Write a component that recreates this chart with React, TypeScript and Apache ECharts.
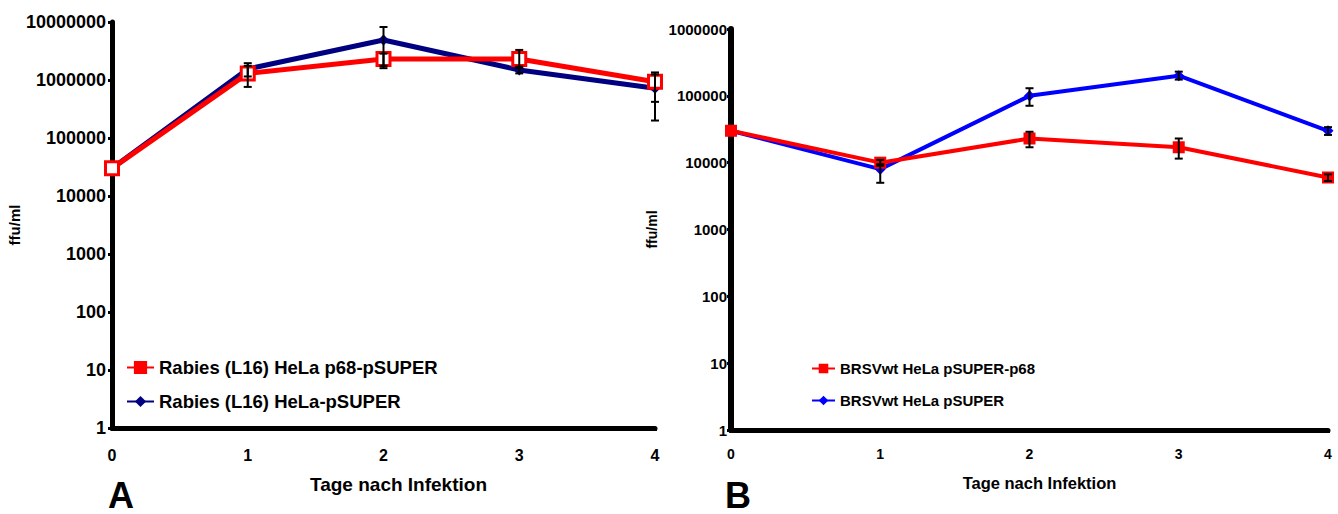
import React, { useEffect, useRef } from "react";
import * as echarts from "echarts";

// ---- Data ----
const days = [0, 1, 2, 3, 4];
// Panel A
const aRedName = "Rabies (L16) HeLa p68-pSUPER";
const aBlueName = "Rabies (L16) HeLa-pSUPER";
const aRed = [30000, 1300000, 2300000, 2300000, 930000];
const aBlue = [30000, 1550000, 4900000, 1490000, 720000];
const aRedErr = [[30000, 30000], [760000, 1750000], [1750000, 2850000], [1600000, 3300000], [420000, 1350000]];
const aBlueErr = [[30000, 30000], [1150000, 1950000], [1600000, 8200000], [1300000, 1700000], [200000, 1250000]];
const aTicks = ["1", "10", "100", "1000", "10000", "100000", "1000000", "10000000"];
// Panel B
const bRedName = "BRSVwt HeLa pSUPER-p68";
const bBlueName = "BRSVwt HeLa pSUPER";
const bRed = [30000, 10000, 23000, 17000, 6000];
const bBlue = [30000, 8000, 100000, 200000, 30000];
const bRedErr = [[30000, 30000], [9000, 11000], [17000, 29000], [11500, 23000], [5300, 6700]];
const bBlueErr = [[30000, 30000], [5000, 9500], [71000, 130000], [175000, 230000], [26000, 34000]];
const bTicks = ["1", "10", "100", "1000", "10000", "100000", "1000000"];

const FONT = "Liberation Sans";

function errSeries(xi: number, yi: number, errs: number[][], cap: number) {
  return {
    type: "custom",
    xAxisIndex: xi,
    yAxisIndex: yi,
    z: 5,
    clip: false,
    data: days.map((d, i) => [d, errs[i][0], errs[i][1]]),
    renderItem: (params: any, api: any) => {
      const x = api.value(0);
      const lo = api.value(1);
      const hi = api.value(2);
      if (lo === hi) return null;
      const p1 = api.coord([x, lo]);
      const p2 = api.coord([x, hi]);
      const st = { stroke: "#000", lineWidth: 2 };
      return {
        type: "group",
        children: [
          { type: "line", shape: { x1: p1[0], y1: p1[1], x2: p2[0], y2: p2[1] }, style: st },
          { type: "line", shape: { x1: p1[0] - cap, y1: p1[1], x2: p1[0] + cap, y2: p1[1] }, style: st },
          { type: "line", shape: { x1: p2[0] - cap, y1: p2[1], x2: p2[0] + cap, y2: p2[1] }, style: st },
        ],
      };
    },
  };
}

function xAxisCfg(gi: number, fs: number, lw: number, gap: number, nfs: number, margin: number, shift: number) {
  return {
    type: "value",
    gridIndex: gi,
    min: 0,
    max: 4,
    interval: 1,
    name: "Tage nach Infektion",
    nameLocation: "middle",
    nameGap: gap,
    nameTextStyle: {
      fontFamily: FONT,
      fontWeight: "bold",
      fontSize: nfs,
      color: "#000",
      padding: [0, 0, 0, shift * 2],
    },
    axisLine: { show: true, onZero: false, lineStyle: { color: "#000", width: lw } },
    axisTick: { show: true, length: 3, inside: false, lineStyle: { color: "#000", width: 3 } },
    axisLabel: { fontFamily: FONT, fontWeight: "bold", fontSize: fs, color: "#000", margin },
    splitLine: { show: false },
  };
}

function yAxisCfg(gi: number, max: number, fs: number, lw: number, gap: number, nfs: number, margin: number, ticks: string[]) {
  return {
    type: "log",
    logBase: 10,
    gridIndex: gi,
    min: 1,
    max,
    name: "ffu/ml",
    nameLocation: "middle",
    nameGap: gap,
    nameRotate: 90,
    nameTextStyle: { fontFamily: FONT, fontWeight: "bold", fontSize: nfs, color: "#000" },
    axisLine: { show: true, lineStyle: { color: "#000", width: lw } },
    axisTick: { show: true, length: 4, lineStyle: { color: "#000", width: 3 } },
    axisLabel: {
      fontFamily: FONT,
      fontWeight: "bold",
      fontSize: fs,
      color: "#000",
      margin,
      formatter: (v: number) => {
        const i = Math.round(Math.log10(v));
        return ticks[i] !== undefined ? ticks[i] : String(Math.round(v));
      },
    },
    splitLine: { show: false },
  };
}

export default function App() {
  const ref = useRef<HTMLDivElement>(null);
  useEffect(() => {
    document.body.style.margin = "0";
    const chart = echarts.init(ref.current!, undefined, { renderer: "svg" });
    chart.setOption({
      animation: false,
      backgroundColor: "#fff",
      grid: [
        { left: 112, right: 683, top: 22, bottom: 86 },
        { left: 731, right: 10, top: 29, bottom: 84 },
      ],
      xAxis: [xAxisCfg(0, 16, 5, 47, 19, 19, 15), xAxisCfg(1, 14, 5, 44, 16.5, 17, 10)],
      yAxis: [
        yAxisCfg(0, 10000000, 18, 5, 87, 15, 6, aTicks),
        yAxisCfg(1, 1000000, 15, 6, 72, 14, 4, bTicks),
      ],
      legend: [
        {
          data: [{ name: aRedName, itemStyle: { color: "#ff0000", borderColor: "#ff0000" } }, { name: aBlueName }],
          orient: "vertical",
          left: 121,
          top: 353,
          itemWidth: 27,
          itemHeight: 14,
          itemGap: 15,
          textStyle: { fontFamily: FONT, fontWeight: "bold", fontSize: 18.5, color: "#000" },
        },
        {
          data: [bRedName, bBlueName],
          orient: "vertical",
          left: 806,
          top: 356,
          itemWidth: 23,
          itemHeight: 12,
          itemGap: 17,
          textStyle: { fontFamily: FONT, fontWeight: "bold", fontSize: 15, color: "#000" },
        },
      ],
      series: [
        {
          name: aBlueName,
          type: "line",
          xAxisIndex: 0,
          yAxisIndex: 0,
          data: days.map((d, i) => [d, aBlue[i]]),
          symbol: "diamond",
          symbolSize: 11,
          clip: false,
          lineStyle: { color: "#000080", width: 5 },
          itemStyle: { color: "#000080" },
        },
        {
          name: aRedName,
          type: "line",
          xAxisIndex: 0,
          yAxisIndex: 0,
          data: days.map((d, i) => [d, aRed[i]]),
          symbol: "rect",
          symbolSize: 13,
          clip: false,
          lineStyle: { color: "#ff0000", width: 5 },
          itemStyle: { color: "#ffffff", borderColor: "#ff0000", borderWidth: 3 },
        },
        errSeries(0, 0, aBlueErr, 4),
        errSeries(0, 0, aRedErr, 4),
        {
          name: bBlueName,
          type: "line",
          xAxisIndex: 1,
          yAxisIndex: 1,
          data: days.map((d, i) => [d, bBlue[i]]),
          symbol: "diamond",
          symbolSize: 11,
          clip: false,
          lineStyle: { color: "#0000ff", width: 4 },
          itemStyle: { color: "#0000ff" },
        },
        {
          name: bRedName,
          type: "line",
          xAxisIndex: 1,
          yAxisIndex: 1,
          data: days.map((d, i) => [d, bRed[i]]),
          symbol: "rect",
          symbolSize: 12,
          clip: false,
          lineStyle: { color: "#ff0000", width: 4 },
          itemStyle: { color: "#ff0000" },
        },
        errSeries(1, 1, bBlueErr, 4),
        errSeries(1, 1, bRedErr, 4),
      ],
      graphic: [
        { type: "text", left: 108, top: 477, style: { text: "A", fontFamily: FONT, fontWeight: "bold", fontSize: 36, fill: "#000" } },
        { type: "text", left: 725, top: 477, style: { text: "B", fontFamily: FONT, fontWeight: "bold", fontSize: 36, fill: "#000" } },
      ],
    });
    return () => chart.dispose();
  }, []);
  return <div ref={ref} style={{ position: "absolute", left: 0, top: 0, width: 1338, height: 514 }} />;
}
